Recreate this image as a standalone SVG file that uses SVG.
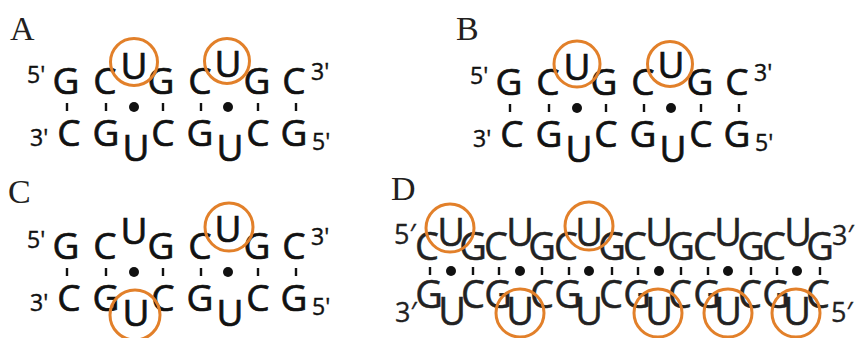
<svg xmlns="http://www.w3.org/2000/svg" width="856" height="338" viewBox="0 0 856 338">
<defs>
<style>
.pl{font-family:"Liberation Serif",serif;font-size:34px;fill:#231f20}
.b{font-family:"Open Sans","Liberation Sans",sans-serif;font-size:37px;fill:#111;stroke:#111;stroke-width:0.7;text-anchor:middle}
.bd{font-family:"Open Sans","Liberation Sans",sans-serif;font-size:38px;fill:#222;stroke:#222;stroke-width:0.5;text-anchor:middle}
.p{font-family:"Open Sans","Liberation Sans",sans-serif;font-size:23px;fill:#111;stroke:#111;stroke-width:0.4}
.pd{font-family:"Open Sans","Liberation Sans",sans-serif;font-size:27px;fill:#222;stroke:#222;stroke-width:0.3}
.t{stroke:#111;stroke-width:2.4}
.dot{fill:#111}
.o{fill:none;stroke:#e2802a;stroke-width:3}
</style>
<g id="dup">
<text class="p" x="27" y="83">5'</text>
<text class="b" x="66" y="94">G</text>
<text class="b" x="105" y="94">C</text>
<text class="b" x="134" y="79">U</text>
<text class="b" x="161" y="94">G</text>
<text class="b" x="200" y="94">C</text>
<text class="b" x="228" y="77">U</text>
<text class="b" x="257" y="94">G</text>
<text class="b" x="294" y="94">C</text>
<text class="p" x="311" y="80">3'</text>
<text class="p" x="30" y="146">3'</text>
<text class="b" x="69" y="146">C</text>
<text class="b" x="106" y="146">G</text>
<text class="b" x="136" y="161">U</text>
<text class="b" x="163" y="146">C</text>
<text class="b" x="200" y="146">G</text>
<text class="b" x="230" y="161">U</text>
<text class="b" x="258" y="146">C</text>
<text class="b" x="294" y="146">G</text>
<text class="p" x="312" y="150">5'</text>
</g>
<g id="conn">
<path class="t" d="M67 103v8M106 103v8M163 103v8M201 103v8M258 103v8M296 103v8"/>
<circle class="dot" cx="134" cy="107" r="5"/>
<circle class="dot" cx="228" cy="107" r="5"/>
</g>
</defs>
<rect width="856" height="338" fill="#fff"/>

<g id="panelA">
<text class="pl" x="10" y="40">A</text>
<use href="#dup"/>
<use href="#conn"/>
<circle class="o" cx="134" cy="62" r="23.5"/>
<circle class="o" cx="227" cy="61" r="22.5"/>
</g>

<g id="panelB">
<text class="pl" x="456" y="40">B</text>
<g transform="translate(443,1)">
<use href="#dup"/>
<use href="#conn"/>
<circle class="o" cx="134" cy="63" r="23"/>
<circle class="o" cx="227" cy="63" r="22.5"/>
</g>
</g>

<g id="panelC">
<text class="pl" x="8" y="203">C</text>
<g transform="translate(0,165)">
<use href="#dup"/>
<use href="#conn"/>
<circle class="o" cx="229" cy="62" r="24"/>
<circle class="o" cx="135" cy="150" r="25"/>
</g>
</g>

<g id="panelD">
<text class="pl" x="391" y="200">D</text>
<text class="pd" x="394" y="244">5′</text>
<text class="pd" x="395" y="322">3′</text>
<text class="pd" x="832" y="245">3′</text>
<text class="pd" x="831" y="322">5′</text>
<g id="top-row">
<text class="bd" x="427" y="260">C</text><text class="bd" x="451" y="246">U</text><text class="bd" x="473" y="260">G</text>
<text class="bd" x="496" y="260">C</text><text class="bd" x="520" y="246">U</text><text class="bd" x="542" y="260">G</text>
<text class="bd" x="566" y="260">C</text><text class="bd" x="589" y="246">U</text><text class="bd" x="612" y="260">G</text>
<text class="bd" x="635" y="260">C</text><text class="bd" x="659" y="246">U</text><text class="bd" x="681" y="260">G</text>
<text class="bd" x="705" y="260">C</text><text class="bd" x="728" y="246">U</text><text class="bd" x="751" y="260">G</text>
<text class="bd" x="774" y="260">C</text><text class="bd" x="798" y="246">U</text><text class="bd" x="820" y="260">G</text>
</g>
<g id="bottom-row">
<text class="bd" x="429" y="308">G</text><text class="bd" x="452" y="325">U</text><text class="bd" x="473" y="308">C</text>
<text class="bd" x="498" y="308">G</text><text class="bd" x="520" y="325">U</text><text class="bd" x="542" y="308">C</text>
<text class="bd" x="568" y="308">G</text><text class="bd" x="589" y="325">U</text><text class="bd" x="611" y="308">C</text>
<text class="bd" x="637" y="308">G</text><text class="bd" x="659" y="325">U</text><text class="bd" x="680" y="308">C</text>
<text class="bd" x="707" y="308">G</text><text class="bd" x="728" y="325">U</text><text class="bd" x="750" y="308">C</text>
<text class="bd" x="776" y="308">G</text><text class="bd" x="797" y="325">U</text><text class="bd" x="818" y="308">C</text>
</g>
<g id="pairs-D">
<path class="t" d="M430 267v8M473 267v8M499 267v8M542 267v8M569 267v8M612 267v8M638 267v8M681 267v8M708 267v8M751 267v8M777 267v8M820 267v8"/>
<circle class="dot" cx="451" cy="271" r="5"/><circle class="dot" cx="520" cy="271" r="5"/><circle class="dot" cx="589" cy="271" r="5"/>
<circle class="dot" cx="659" cy="271" r="5"/><circle class="dot" cx="728" cy="271" r="5"/><circle class="dot" cx="797" cy="271" r="5"/>
</g>
<circle class="o" cx="450" cy="228" r="24"/>
<circle class="o" cx="589" cy="226" r="24"/>
<circle class="o" cx="520" cy="313" r="24"/>
<circle class="o" cx="658" cy="313" r="24"/>
<circle class="o" cx="728" cy="313" r="24"/>
<circle class="o" cx="796" cy="313" r="24"/>
</g>
</svg>
